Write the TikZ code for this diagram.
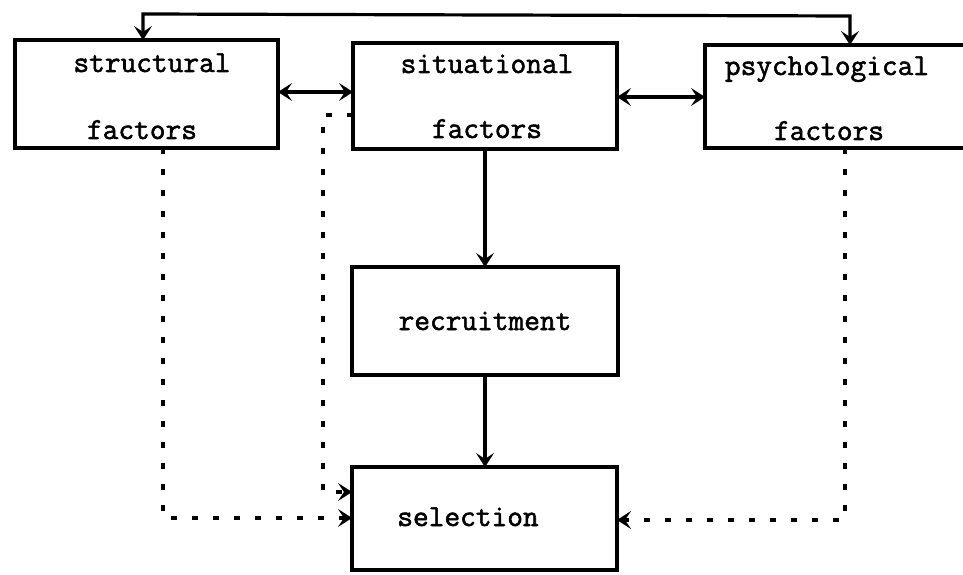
\documentclass[tikz,border=0pt]{standalone}
\usepackage{fontspec}
\newfontfamily\typew[FakeBold=1.8]{Latin Modern Mono}
\usetikzlibrary{arrows.meta,calc}
\tikzset{
  box/.style={draw, line width=3.6bp, inner sep=0pt, outer sep=0pt},
  lbl/.style={anchor=base, inner sep=0pt, font=\typew\fontsize{30.5bp}{36bp}\selectfont},
  head/.tip={Stealth[length=14bp,width=18bp,inset=6bp]},
  tip/.style={-head},
  both/.style={head-head},
  solid link/.style={line width=3.2bp},
  dotted link/.style={line width=3.4bp, dash pattern=on 6bp off 15bp},
}
\begin{document}
\begin{tikzpicture}[x=1bp,y=-1bp]
\useasboundingbox (0,0) rectangle (963,575);
\clip (0,0) rectangle (963,575);

% the five boxes
\node[box, minimum width=263bp, minimum height=108bp] (struct) at (146.5,94) {};
\node[box, minimum width=264bp, minimum height=106bp] (situ)   at (485,96) {};
\node[box, minimum width=263bp, minimum height=103bp] (psych)  at (836.5,96.5) {};
\node[box, minimum width=266bp, minimum height=108bp] (recr)   at (485,321) {};
\node[box, minimum width=265bp, minimum height=103bp] (sel)    at (484.5,518.5) {};

% box texts
\node[lbl] (t1a) at (152,72)  {structural};
\node[lbl] (t1b) at (142,139) {factors};
\node[lbl] (t2a) at (487,73)  {situational};
\node[lbl] (t2b) at (487,138) {factors};
\node[lbl] (t3a) at (827,75)  {psychological};
\node[lbl] (t3b) at (829,140) {factors};
\node[lbl] (t4)  at (485,330) {recruitment};
\node[lbl] (t5)  at (468,526) {selection};

% corner points of the routed connectors
\coordinate (tl) at (143,14);
\coordinate (tr) at (850,16);
\coordinate (sdl) at (323,115);
\coordinate (sdb) at (323,492);
\coordinate (stx) at (163,518);
\coordinate (psx) at (845,520);

% solid connectors
\draw[solid link, both] (struct.north -| tl) -- (tl) -- (tr) -- (psych.north -| tr);
\draw[solid link, both] (struct.east |- 0,92) -- (situ.west |- 0,92);
\draw[solid link, both] (situ.east |- 0,97) -- (psych.west |- 0,97);
\draw[solid link, tip] (situ.south) -- (recr.north);
\draw[solid link, tip] (recr.south) -- (recr.south |- sel.north);

% dashed influences on selection
\draw[dotted link, tip] (situ.west |- sdl) -- (sdl) -- (sdb) -- (sel.west |- sdb);
\draw[dotted link, tip] (struct.south -| stx) -- (stx) -- (sel.west |- stx);
\draw[dotted link, tip] (psych.south -| psx) -- (psx) -- (sel.east |- psx);
\end{tikzpicture}
\end{document}
